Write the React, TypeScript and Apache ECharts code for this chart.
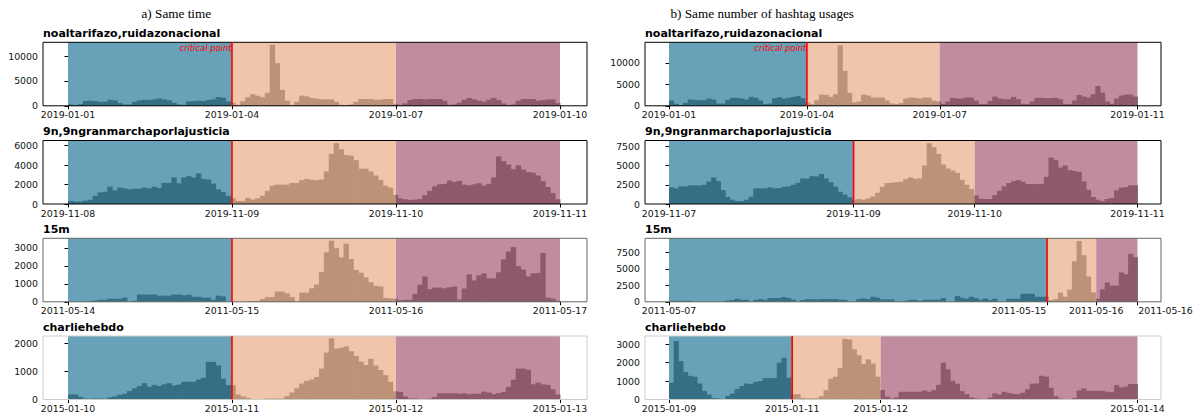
import React, { useEffect, useRef } from "react";
import * as echarts from "echarts";

// ---------------- DATA ----------------
const panelTitleA = "a) Same time";
const panelTitleB = "b) Same number of hashtag usages";
const hashtags = [
  "noaltarifazo,ruidazonacional",
  "9n,9ngranmarchaporlajusticia",
  "15m",
  "charliehebdo",
];
const criticalLabel = "critical point";

// Same time panel: 100 histogram bins per hashtag
const sameTimeNoaltarifazo = [
  270, 140, 340, 960, 1030, 960, 820, 820, 1230, 1090,
  550, 270, 270, 820, 1090, 1230, 1160, 1300, 1500, 1300,
  1090, 620, 270, 200, 890, 960, 1030, 960, 1160, 1300,
  1780, 1640, 890, 600, 200, 890, 1710, 2330, 2050, 1710,
  2600, 12300, 8600, 3200, 1030, 200, 820, 2050, 1900, 1570,
  1440, 1300, 1300, 1300, 820, 200, 140, 270, 820, 1370,
  1370, 1370, 1230, 1230, 1370, 1370, 400, 200, 480, 1160,
  1370, 1370, 1300, 1370, 1370, 1370, 1030, 200, 270, 620,
  1230, 1570, 1300, 1030, 820, 1230, 1570, 1160, 480, 140,
  270, 1030, 1370, 1370, 1370, 1030, 1160, 1300, 1300, 550,
];
const sameTime9n = [
  314, 244, 244, 350, 420, 840, 1190, 1260, 1780, 1400,
  1680, 1600, 1500, 1570, 1570, 1680, 1600, 1780, 1640, 2160,
  2160, 2720, 2130, 2720, 2860, 2720, 3140, 2580, 2510, 2090,
  1500, 1220, 840, 590, 314, 314, 630, 450, 590, 840,
  1360, 1880, 1990, 1990, 1990, 2160, 2160, 2440, 2580, 2480,
  2440, 2510, 3350, 5160, 6250, 5620, 5030, 4960, 4500, 3630,
  3630, 3350, 2930, 2480, 1880, 1680, 940, 590, 490, 420,
  450, 520, 910, 1360, 1810, 2020, 2060, 2410, 2270, 2370,
  1990, 1920, 2020, 2130, 1880, 2060, 2720, 4890, 4400, 4050,
  3560, 3980, 3530, 3280, 3210, 2930, 2340, 1750, 1120, 490,
];
const sameTime15m = [
  0, 0, 0, 0, 40, 75, 110, 110, 170, 170,
  170, 230, 0, 57, 400, 400, 400, 400, 340, 340,
  340, 400, 400, 360, 400, 280, 280, 230, 230, 110,
  340, 300, 0, 0, 0, 0, 0, 40, 40, 150,
  260, 260, 570, 570, 470, 260, 0, 510, 510, 750,
  960, 1660, 2750, 3400, 2980, 2470, 3230, 2380, 1770, 1620,
  1360, 1090, 890, 850, 210, 190, 170, 94, 110, 110,
  430, 940, 1410, 700, 790, 790, 750, 810, 850, 130,
  740, 1530, 1190, 1470, 1580, 1300, 1300, 1640, 2360, 2790,
  3040, 1980, 1790, 1410, 1580, 1600, 2720, 230, 170, 60,
];
const sameTimeCharlie = [
  180, 180, 97, 36, 24, 36, 36, 24, 73, 110,
  170, 205, 300, 400, 480, 580, 450, 520, 480, 540,
  580, 500, 530, 630, 630, 630, 710, 770, 1340, 1340,
  1210, 740, 510, 510, 180, 110, 60, 12, 0, 12,
  36, 36, 36, 36, 120, 250, 400, 570, 665, 710,
  800, 1100, 1670, 2180, 1810, 1840, 1890, 1720, 1550, 1350,
  1230, 1450, 1210, 1050, 870, 630, 290, 270, 110, 36,
  36, 0, 0, 36, 85, 220, 220, 220, 220, 205,
  220, 190, 205, 205, 280, 250, 190, 230, 270, 450,
  700, 1100, 1100, 1060, 540, 600, 540, 520, 360, 180,
];

// Same number of hashtag usages panel
const sameUsageNoaltarifazo = [
  1230, 460, 150, 690, 1460, 1380, 1300, 1300, 1690, 1460,
  540, 540, 1380, 1850, 1850, 1690, 1460, 2080, 1850, 1230,
  380, 540, 1770, 2000, 1690, 1850, 2080, 2310, 1770, 770,
  380, 1300, 2610, 2540, 2080, 2690, 14070, 8150, 3000, 770,
  1000, 2610, 2380, 1920, 1920, 1920, 1230, 540, 380, 620,
  1690, 1920, 1850, 1690, 1920, 1920, 1230, 1000,
  460, 1000, 1850, 1690, 1690, 1920, 1920, 1230, 380, 380,
  1150, 2150, 1690, 1540, 1540, 2080, 1540, 460, 380, 1000,
  1850, 1850, 1770, 1770, 1850, 1540, 460, 380, 1230, 2540,
  2150, 1920, 2690, 4610, 3070, 1000, 460, 1690, 2380, 2610,
  2610, 2150,
];
const sameUsage9n = [
  2160, 2030, 2290, 2290, 2420, 2420, 2420, 2500, 2930, 3450,
  2970, 1810, 910, 560, 390, 390, 560, 950, 2030, 2030,
  2030, 2160, 2030, 2070, 2240, 2290, 2500, 2760, 3320, 3280,
  3620, 3580, 3880, 3320, 2840, 2240, 1590, 1210, 860, 560,
  650, 560, 730, 990, 1460, 2240, 2720, 2760, 2840, 2890,
  3230, 3450, 3280, 3320, 5000, 7890, 7370, 6510, 5130, 4610,
  4350, 4050, 3150, 2500, 1940, 1120,
  690, 650, 650, 1160, 1720, 2290, 2720, 2970, 3100, 2890,
  2590, 2590, 2590, 2590, 3530, 6030, 5730, 4740, 5000, 4400,
  4270, 4180, 2930, 1850, 910, 560, 390, 650, 780, 1770,
  2110, 2200, 2420, 2420,
];
const sameUsage15m = [
  150, 150, 150, 150, 150, 0, 0, 0, 0, 0,
  0, 0, 200, 260, 460, 310, 310, 0, 310, 410,
  310, 570, 570, 570, 720, 570, 310, 0, 260, 410,
  410, 360, 410, 410, 410, 410, 310, 310, 0, 0,
  410, 510, 410, 770, 620, 360, 360, 360, 0, 0,
  150, 310, 310, 150, 310, 310, 310, 310, 570, 0,
  0, 870, 620, 460, 770, 570, 310, 510, 260, 460,
  0, 0, 460, 460, 460, 1230, 1230, 1230, 770, 770,
  770, 260, 410, 1390, 770, 1850, 6170, 9250, 7090, 3850,
  1440, 460, 1900, 2930, 2470, 2470, 4470, 4210, 7300, 6790,
];
const sameUsageCharlie = [
  910, 3180, 2090, 1490, 1290, 1240, 870, 470, 270, 70,
  55, 0, 200, 330, 580, 730, 870, 840, 960, 1000,
  1160, 1160, 1160, 2000, 2270, 1180, 290,
  290, 90, 55, 70, 70, 180, 510, 1130, 1240, 1710,
  3290, 3260, 2730, 2400, 1930, 2180, 1950, 1240,
  510, 160, 55, 110, 420, 420, 420, 420, 420, 490,
  420, 510, 800, 2000, 1640, 1020, 860, 460, 290, 110,
  55, 0, 0, 110, 330, 270, 420, 360, 310, 290,
  360, 560, 860, 870, 1290, 1240, 640, 180, 55, 0,
  0, 90, 490, 600, 470, 470, 470, 470, 420, 400,
  780, 660, 710, 840, 840,
];

// phase boundaries (fraction of the plotted window)
const sameTimeBounds = [[1 / 3, 2 / 3], [1 / 3, 2 / 3], [1 / 3, 2 / 3], [1 / 3, 2 / 3]];
const sameUsageBounds = [[0.2944, 0.578], [0.394, 0.6525], [0.807, 0.912], [0.263, 0.452]];

const sameTimeTickLabels = [
  ["2019-01-01", "2019-01-04", "2019-01-07", "2019-01-10"],
  ["2019-11-08", "2019-11-09", "2019-11-10", "2019-11-11"],
  ["2011-05-14", "2011-05-15", "2011-05-16", "2011-05-17"],
  ["2015-01-10", "2015-01-11", "2015-01-12", "2015-01-13"],
];
const sameUsageTickLabels = [
  ["2019-01-01", "2019-01-04", "2019-01-07", "2019-01-11"],
  ["2019-11-07", "2019-11-09", "2019-11-10", "2019-11-11"],
  ["2011-05-07", "2011-05-15", "2011-05-16", "2011-05-16"],
  ["2015-01-09", "2015-01-11", "2015-01-12", "2015-01-14"],
];
const sameTimeYMax = [12800, 6520, 3530, 2260];
const sameUsageYMax = [14760, 8250, 9660, 3450];
const sameTimeYTicks = [[0, 5000, 10000], [0, 2000, 4000, 6000], [0, 1000, 2000, 3000], [0, 1000, 2000]];
const sameUsageYTicks = [[0, 5000, 10000], [0, 2500, 5000, 7500], [0, 2500, 5000, 7500], [0, 1000, 2000, 3000]];

// ---------------- STYLE / LAYOUT ----------------
const FONT = '"DejaVu Sans", Verdana, sans-serif';
const BAR_GRAY = "#808080";
const SHADES = ["rgba(3,100,137,0.6)", "rgba(228,158,115,0.6)", "rgba(152,63,97,0.6)"];
const ROW_TOPS = [42.3, 140.5, 238.3, 336];
const ROW_H = 63.5;
const FRAME_COLORS = ["#000000", "#000000", "#666666", "#cccccc"];
const PANEL_A = { left: 43, width: 544, min: -0.0508, max: 1.0549 };
const PANEL_B = { left: 645, width: 516, min: -0.0512, max: 1.0502 };
// per-label horizontal alignment shifts (-1: end at tick, 0: centered, 1: start at tick)
const LABEL_SHIFT_A = [[0, 0, 0, 0], [0, 0, 0, 0], [0, 0, 0, 0], [0, 0, 0, 0]];
const LABEL_SHIFT_B = [[0, 0, 0, 0], [0, 0, 0, 0], [0, -1, 0, 1], [0, 0, 0, 0]];
const LABEL_PAD = 56;

function buildOption() {
  const grid: any[] = [];
  const xAxis: any[] = [];
  const yAxis: any[] = [];
  const series: any[] = [];
  const graphic: any[] = [];

  const sets = [
    { panel: PANEL_A, values: [sameTimeNoaltarifazo, sameTime9n, sameTime15m, sameTimeCharlie], bounds: sameTimeBounds, ticks: sameTimeTickLabels, ymax: sameTimeYMax, yt: sameTimeYTicks, shift: LABEL_SHIFT_A },
    { panel: PANEL_B, values: [sameUsageNoaltarifazo, sameUsage9n, sameUsage15m, sameUsageCharlie], bounds: sameUsageBounds, ticks: sameUsageTickLabels, ymax: sameUsageYMax, yt: sameUsageYTicks, shift: LABEL_SHIFT_B },
  ];

  const txt = { fontSize: 9.4, fontFamily: FONT, color: "#111" };

  let k = 0;
  sets.forEach((set) => {
    for (let r = 0; r < 4; r++) {
      const vals = set.values[r];
      const N = vals.length;
      const b = set.bounds[r];
      const tickPos = [0, b[0], b[1], 1];
      const labels = set.ticks[r];
      const shifts = set.shift[r];
      const frameColor = FRAME_COLORS[r];
      const showCritical = r === 0;
      grid.push({ left: set.panel.left, top: ROW_TOPS[r], width: set.panel.width, height: ROW_H, show: false });
      xAxis.push({
        gridIndex: k,
        type: "value",
        min: set.panel.min,
        max: set.panel.max,
        axisLine: { show: false },
        splitLine: { show: false },
        axisTick: { show: true, length: 3.5, lineStyle: { color: "#000", width: 1 }, customValues: tickPos },
        axisLabel: {
          customValues: tickPos,
          ...txt,
          margin: 4.5,
          hideOverlap: false,
          rich: {
            c: { ...txt },
            l: { ...txt, padding: [0, LABEL_PAD, 0, 0] },
            r: { ...txt, padding: [0, 0, 0, LABEL_PAD] },
          },
          formatter: (v: number) => {
            for (let i = 0; i < tickPos.length; i++) {
              if (Math.abs(tickPos[i] - v) < 1e-6) {
                const s = shifts[i];
                const key = s < 0 ? "l" : s > 0 ? "r" : "c";
                return "{" + key + "|" + labels[i] + "}";
              }
            }
            return "";
          },
        },
      });
      yAxis.push({
        gridIndex: k,
        type: "value",
        min: 0,
        max: set.ymax[r],
        axisLine: { show: false },
        splitLine: { show: false },
        axisTick: { show: true, length: 3.5, lineStyle: { color: "#000", width: 1 }, customValues: set.yt[r] },
        axisLabel: {
          customValues: set.yt[r],
          ...txt,
          margin: 5,
          formatter: (v: number) => String(v),
        },
      });
      // histogram bars
      series.push({
        type: "custom",
        xAxisIndex: k,
        yAxisIndex: k,
        z: 1,
        silent: true,
        encode: { x: [0, 1], y: 2 },
        data: vals.map((v, i) => [i / N, (i + 1) / N, v]),
        renderItem: (params: any, api: any) => {
          const p0 = api.coord([api.value(0), api.value(2)]);
          const p1 = api.coord([api.value(1), 0]);
          return {
            type: "rect",
            shape: { x: p0[0], y: p0[1], width: p1[0] - p0[0] + 0.5, height: p1[1] - p0[1] },
            style: { fill: BAR_GRAY },
          };
        },
      });
      // phase shading
      series.push({
        type: "custom",
        xAxisIndex: k,
        yAxisIndex: k,
        z: 2,
        silent: true,
        encode: { x: [0, 1] },
        data: [[0, b[0], 0], [b[0], b[1], 1], [b[1], 1, 2]],
        renderItem: (params: any, api: any) => {
          const cs = params.coordSys;
          const x0 = api.coord([api.value(0), 0])[0];
          const x1 = api.coord([api.value(1), 0])[0];
          return {
            type: "rect",
            shape: { x: x0, y: cs.y, width: x1 - x0, height: cs.height },
            style: { fill: SHADES[api.value(2)] },
          };
        },
      });
      // frame + critical point line
      series.push({
        type: "custom",
        xAxisIndex: k,
        yAxisIndex: k,
        z: 3,
        silent: true,
        encode: { x: 0, y: 1 },
        data: [[b[0], 0]],
        renderItem: (params: any, api: any) => {
          const cs = params.coordSys;
          const x = api.coord([api.value(0), 0])[0];
          const children: any[] = [
            { type: "rect", shape: { x: cs.x, y: cs.y, width: cs.width, height: cs.height }, style: { fill: "none", stroke: frameColor, lineWidth: 1 } },
            { type: "line", shape: { x1: x, y1: cs.y, x2: x, y2: cs.y + cs.height }, style: { stroke: "#ff0000", lineWidth: 1.6 } },
          ];
          if (showCritical) {
            children.push({
              type: "text",
              x: x - 0.5,
              y: cs.y + 1.5,
              style: {
                text: criticalLabel,
                fill: "#ff0000",
                font: 'italic 8.4px "DejaVu Sans"',
                textAlign: "right",
                textVerticalAlign: "top",
                align: "right",
                verticalAlign: "top",
              },
            });
          }
          return { type: "group", children };
        },
      });
      graphic.push({
        type: "text",
        x: set.panel.left,
        y: ROW_TOPS[r] - 8.6,
        style: {
          text: hashtags[r],
          font: 'bold 11px "DejaVu Sans"',
          fill: "#000",
          textVerticalAlign: "middle",
          verticalAlign: "middle",
        },
      });
      k++;
    }
  });

  graphic.push({
    type: "text",
    x: 141.5,
    y: 13,
    style: { text: panelTitleA, font: '13.2px "Liberation Serif", "Times New Roman", serif', fill: "#000", textVerticalAlign: "middle", verticalAlign: "middle" },
  });
  graphic.push({
    type: "text",
    x: 670.5,
    y: 13,
    style: { text: panelTitleB, font: '13.2px "Liberation Serif", "Times New Roman", serif', fill: "#000", textVerticalAlign: "middle", verticalAlign: "middle" },
  });

  return { animation: false, backgroundColor: "#ffffff", grid, xAxis, yAxis, series, graphic };
}

export default function App() {
  const ref = useRef<HTMLDivElement>(null);
  useEffect(() => {
    if (!ref.current) return;
    const chart = echarts.init(ref.current, undefined, { renderer: "svg" });
    chart.setOption(buildOption() as any);
    return () => chart.dispose();
  }, []);
  return <div ref={ref} style={{ position: "absolute", left: 0, top: 0, width: 1196, height: 416, background: "#fff" }} />;
}
